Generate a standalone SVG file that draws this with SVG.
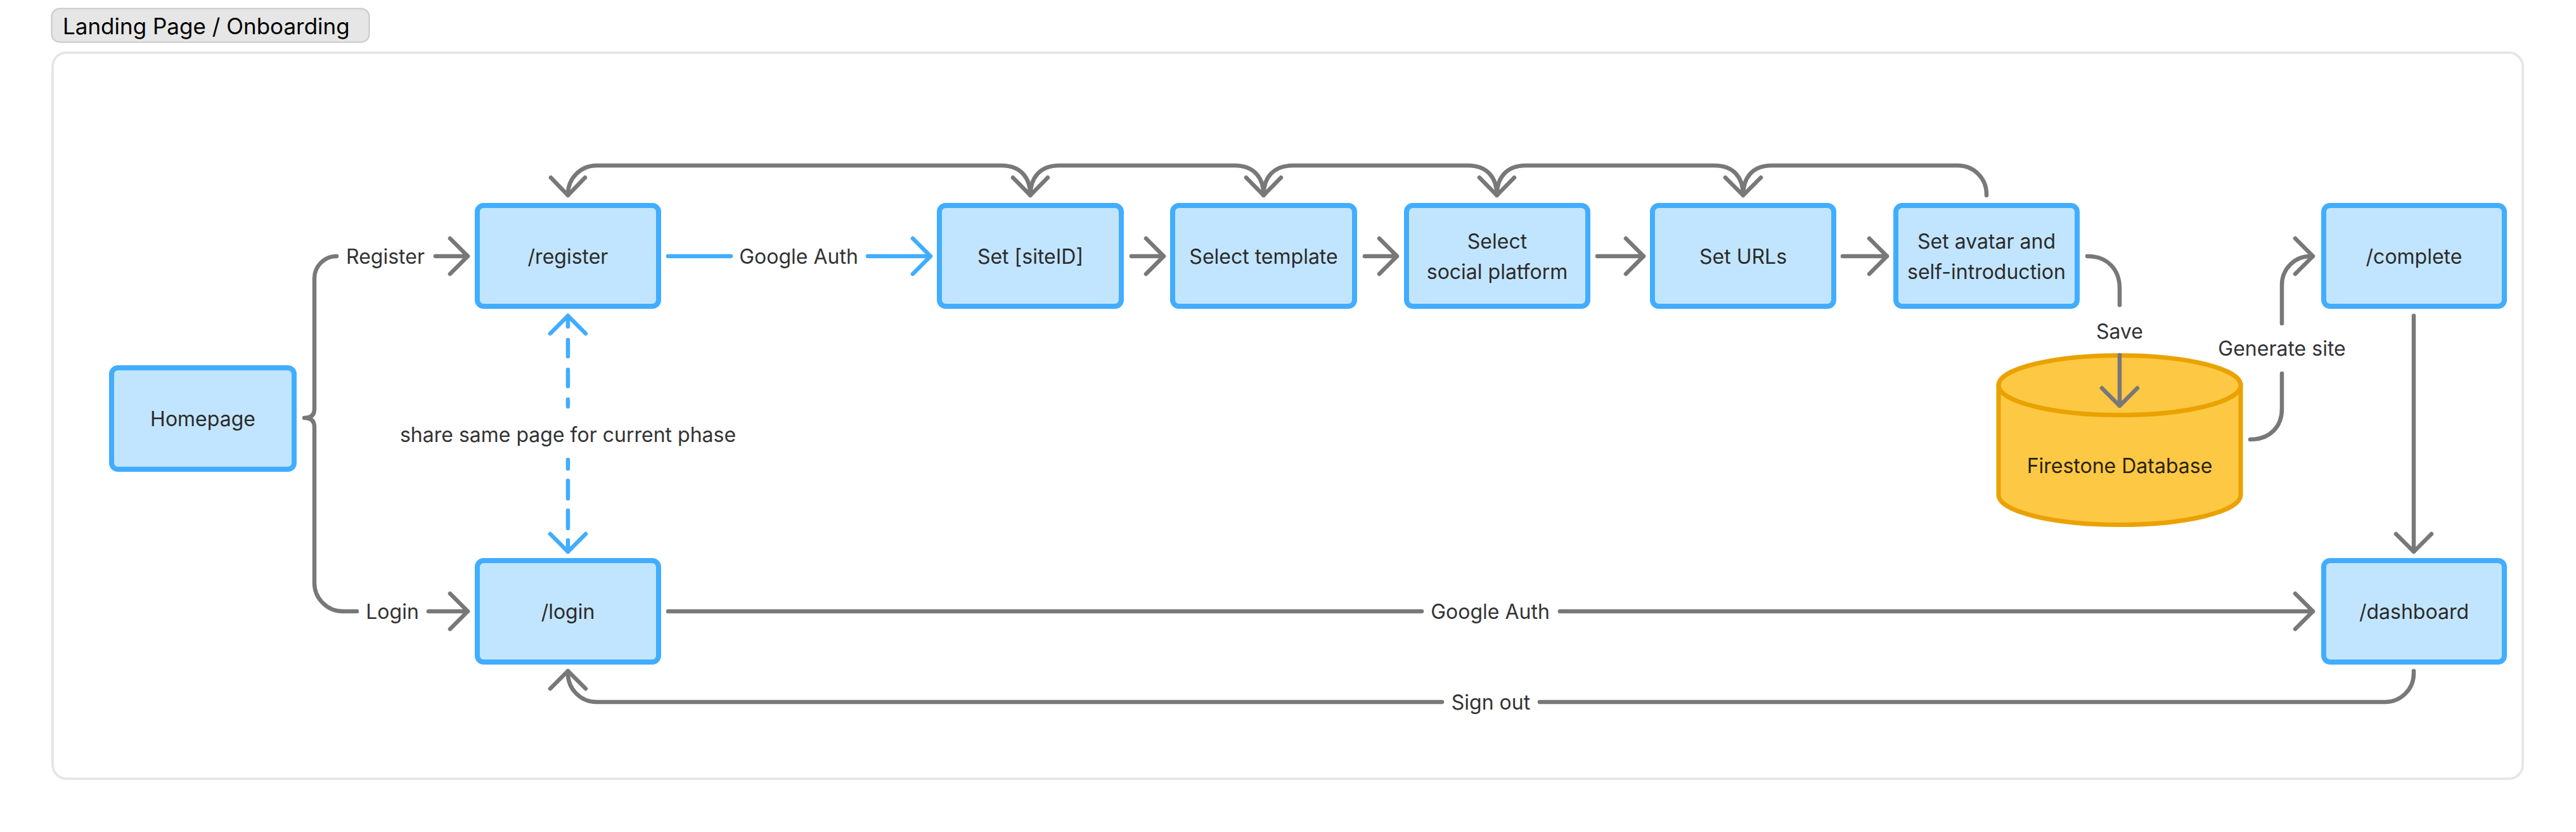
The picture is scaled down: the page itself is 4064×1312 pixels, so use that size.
<svg xmlns="http://www.w3.org/2000/svg" width="4064" height="1312" viewBox="0 0 4064 1312">
<style>
text{font-family:Inter,"Noto Sans","Liberation Sans",sans-serif;font-size:32px;fill:#2b2b2b;text-anchor:middle;dominant-baseline:central}
.node rect{fill:#c2e5ff;stroke:#42adff;stroke-width:8}
.ln{fill:none;stroke:#787878;stroke-width:6.5;stroke-linecap:round;stroke-linejoin:round}
.bl{fill:none;stroke:#42adff;stroke-width:6.5;stroke-linecap:round;stroke-linejoin:round}
.lbl{fill:#333}
</style>
<rect width="4064" height="1312" fill="#ffffff"/>
<g id="frame">
<rect x="83" y="83" width="3897" height="1145" rx="22" fill="#ffffff" stroke="#e6e6e6" stroke-width="4"/>
<rect x="81.5" y="13.5" width="501" height="53" rx="13" fill="#e6e6e6" stroke="#c8c8c8" stroke-width="2"/>
<text x="99" y="41" style="text-anchor:start;font-size:35px;fill:#000">Landing Page / Onboarding</text>
</g>
<g id="connectors">
<!-- brace from Homepage -->
<path class="ln" d="M531,404 A35,35 0 0 0 496,439 L496,645 Q496,659 480,659 Q496,659 496,673 L496,919 A45,45 0 0 0 541,964 L563,964"/>
<text class="lbl" x="608" y="404">Register</text>
<path class="ln" d="M687,404 L738,404 M710,376 L738,404 L710,432"/>
<text class="lbl" x="619" y="964">Login</text>
<path class="ln" d="M676,964 L738,964 M710,936 L738,964 L710,992"/>
<!-- register -> siteID (Google Auth) -->
<path class="bl" d="M1054,404 L1153,404 M1369,404 L1468,404 M1440,376 L1468,404 L1440,432"/>
<text class="lbl" x="1260" y="404">Google Auth</text>
<!-- step arrows -->
<path class="ln" d="M1785,404 L1836,404 M1808,376 L1836,404 L1808,432"/>
<path class="ln" d="M2153,404 L2204,404 M2176,376 L2204,404 L2176,432"/>
<path class="ln" d="M2520,404 L2593,404 M2565,376 L2593,404 L2565,432"/>
<path class="ln" d="M2907,404 L2977,404 M2949,376 L2977,404 L2949,432"/>
<!-- loop back from avatar -->
<path class="ln" d="M3134,308 L3134,306 A45,45 0 0 0 3089,261 L2795,261 C2765,261 2750,280 2750,308 M2705,261 C2735,261 2750,280 2750,308 M2705,261 L2407,261 C2377,261 2361.5,280 2361.5,308 M2316,261 C2346,261 2361.5,280 2361.5,308 M2316,261 L2039,261 C2009,261 1993.5,280 1993.5,308 M1948,261 C1978,261 1993.5,280 1993.5,308 M1948,261 L1671,261 C1641,261 1625.5,280 1625.5,308 M1580,261 C1610,261 1625.5,280 1625.5,308 M1580,261 L941,261 A45,45 0 0 0 896,306 L896,308"/>
<path class="ln" d="M869,280 L896,308 L923,280 M1598,280 L1625.5,308 L1653,280 M1966,280 L1993.5,308 L2021,280 M2334,280 L2361.5,308 L2389,280 M2722,280 L2750,308 L2778,280"/>
<!-- dashed register <-> login -->
<path class="bl" d="M896,498 L896,641" stroke-dasharray="26 21" stroke-dashoffset="9"/>
<path class="bl" d="M896,725 L896,870" stroke-dasharray="28 19" stroke-dashoffset="14"/>
<path class="bl" d="M868,526 L896,498 L924,526 M868,842 L896,870 L924,842"/>
<text class="lbl" x="896" y="685">share same page for current phase</text>
<!-- Save -->
<path class="ln" d="M3293,404 C3325,404 3344,425 3344,455 L3344,481 M3344,560 L3344,640 M3316,612 L3344,640 L3372,612"/>
<text class="lbl" x="3344" y="522">Save</text>
<!-- Generate site -->
<path class="ln" d="M3550,693 C3582,693 3600,672 3600,645 L3600,589 M3600,510 L3600,449 A45,45 0 0 1 3645,404 L3649,404 M3621,376 L3649,404 L3621,432"/>
<text class="lbl" x="3600" y="549">Generate site</text>
<!-- complete -> dashboard -->
<path class="ln" d="M3808,498 L3808,870 M3780,842 L3808,870 L3836,842"/>
<!-- login -> dashboard -->
<path class="ln" d="M1054,964 L2243,964 M2461,964 L3649,964 M3621,936 L3649,964 L3621,992"/>
<text class="lbl" x="2351" y="964">Google Auth</text>
<!-- Sign out -->
<path class="ln" d="M3808,1058 L3808,1062 A45,45 0 0 1 3763,1107 L2429,1107 M2275,1107 L941,1107 A45,45 0 0 1 896,1062 L896,1058 M868,1086 L896,1058 L924,1086"/>
<text class="lbl" x="2352" y="1107">Sign out</text>
</g>
<g id="homepage" class="node"><rect x="176" y="580" width="288" height="160" rx="10"/><text x="320" y="660">Homepage</text></g>
<g id="register" class="node"><rect x="753" y="324" width="286" height="159" rx="10"/><text x="896" y="404">/register</text></g>
<g id="login" class="node"><rect x="753" y="884" width="286" height="160" rx="10"/><text x="896" y="964">/login</text></g>
<g id="set-siteid" class="node"><rect x="1482" y="324" width="287" height="159" rx="10"/><text x="1625.5" y="404">Set [siteID]</text></g>
<g id="select-template" class="node"><rect x="1850" y="324" width="287" height="159" rx="10"/><text x="1993.5" y="404">Select template</text></g>
<g id="select-social" class="node"><rect x="2219" y="324" width="286" height="159" rx="10"/><text x="2362" y="380">Select</text><text x="2362" y="428">social platform</text></g>
<g id="set-urls" class="node"><rect x="2607" y="324" width="286" height="159" rx="10"/><text x="2750" y="404">Set URLs</text></g>
<g id="set-avatar" class="node"><rect x="2991" y="324" width="286" height="159" rx="10"/><text x="3134" y="380">Set avatar and</text><text x="3134" y="428">self-introduction</text></g>
<g id="complete" class="node"><rect x="3666" y="324" width="285" height="159" rx="10"/><text x="3808.5" y="404">/complete</text></g>
<g id="dashboard" class="node"><rect x="3666" y="884" width="285" height="160" rx="10"/><text x="3808.5" y="964">/dashboard</text></g>
<g id="firestone">
<path d="M3153,607.5 L3153,780.5 A191,47 0 0 0 3535,780.5 L3535,607.5 Z" fill="#fdc844" stroke="#e9a200" stroke-width="7"/>
<ellipse cx="3344" cy="607.5" rx="191" ry="47" fill="#fdc844" stroke="#e9a200" stroke-width="7"/>
<text x="3344" y="734" style="fill:#2a2410">Firestone Database</text>
</g>
<path class="ln" d="M3344,560 L3344,640 M3316,612 L3344,640 L3372,612"/>
</svg>
